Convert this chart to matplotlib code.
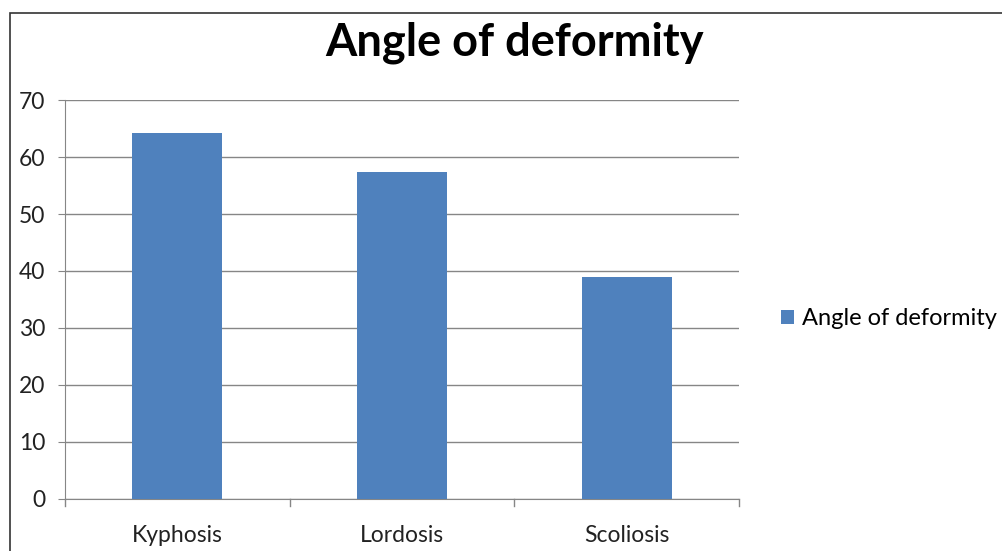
import matplotlib.pyplot as plt
from matplotlib.patches import Rectangle

categories = ['Kyphosis', 'Lordosis', 'Scoliosis']
angles = [64.2, 57.4, 38.9]
series_name = 'Angle of deformity'


def main():
    plt.rcParams['font.family'] = ['Lato', 'DejaVu Sans']
    fig = plt.figure(figsize=(10.03, 5.51), dpi=100)
    ax = fig.add_axes([0.0648, 0.0944, 0.6720, 0.7241])

    x = range(len(categories))
    bars = ax.bar(x, angles, width=0.4, color='#4F81BD', label=series_name, zorder=3)

    ax.set_xlim(-0.5, len(categories) - 0.5)
    ax.set_ylim(0, 70)
    ax.set_yticks(range(0, 71, 10))
    ax.set_xticks(list(x))
    ax.set_xticklabels(categories, fontsize=16.5)
    ax.tick_params(axis='x', length=0, pad=19, labelcolor='#222222')
    ax.tick_params(axis='y', labelsize=16.5, length=5, color='#868686', pad=9, labelcolor='#222222')

    # separadores de categoria en el eje x
    for b in [-0.5, 0.5, 1.5, 2.5]:
        ax.plot([b, b], [0, -0.018], transform=ax.get_xaxis_transform(),
                color='#868686', linewidth=1, clip_on=False)

    ax.grid(axis='y', color='#868686', linewidth=1, zorder=0)
    for side in ['top', 'right']:
        ax.spines[side].set_visible(False)
    ax.spines['left'].set_color('#868686')
    ax.spines['bottom'].set_color('#868686')

    fig.text(0.513, 0.922, 'Angle of deformity', ha='center', va='center',
             fontsize=32.5, fontweight='bold')

    ax.legend(handles=[bars], loc='center left', bbox_to_anchor=(0.757, 0.422),
              bbox_transform=fig.transFigure, frameon=False, fontsize=17,
              handlelength=0.55, handleheight=0.55, handletextpad=0.35)

    # marco exterior del grafico
    fig.patches.append(Rectangle((0.010, -0.1), 1.2, 0.1 + 1 - 13 / 551,
                                 transform=fig.transFigure, fill=False,
                                 edgecolor='#333333', linewidth=1.2))

    fig.savefig('out.png', dpi=100)


if __name__ == '__main__':
    main()
